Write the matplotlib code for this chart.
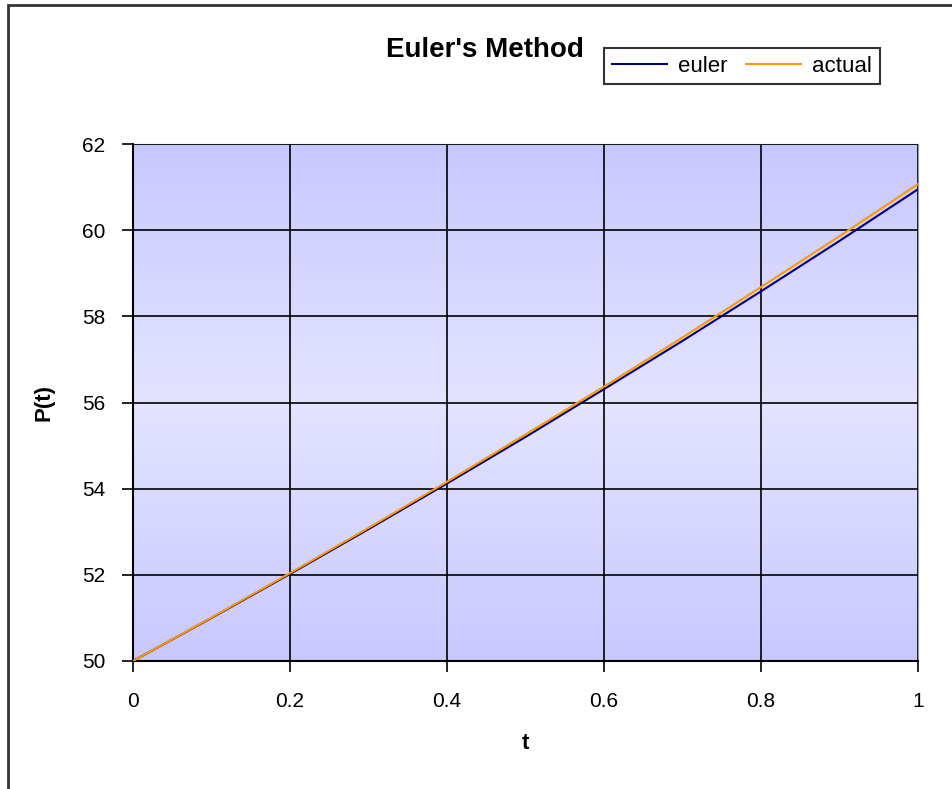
import matplotlib.pyplot as plt
import numpy as np
from matplotlib.patches import Rectangle

plt.rcParams['font.family'] = ['Liberation Sans', 'DejaVu Sans']

# values (step 0.1)
t = [0.0, 0.1, 0.2, 0.3, 0.4, 0.5, 0.6, 0.7, 0.8, 0.9, 1.0]
euler = [50.0, 51.0, 52.02, 53.06, 54.12, 55.2, 56.31, 57.43, 58.58, 59.75, 60.95]
actual = [50.0, 51.01, 52.04, 53.09, 54.16, 55.26, 56.37, 57.51, 58.68, 59.86, 61.07]

xticks = [0, 0.2, 0.4, 0.6, 0.8, 1]
xtick_labels = ['0', '0.2', '0.4', '0.6', '0.8', '1']
yticks = [50, 52, 54, 56, 58, 60, 62]

fig = plt.figure(figsize=(9.53, 7.89), dpi=100)
ax = fig.add_axes([133 / 953, 1 - 661 / 789, 785 / 953, 517 / 789])

# gradient background: darker at top and bottom, lighter in the middle
g = np.linspace(0, 1, 256)
shade = 1 - np.abs(g - 0.5) * 2
r = 200 + 28 * shade
col = np.stack([r, r, np.full_like(r, 255)], axis=1) / 255.0
img = np.repeat(col[:, None, :], 2, axis=1)
ax.imshow(img, extent=[0, 1, 0, 1], transform=ax.transAxes, aspect='auto', zorder=0)

ax.plot(t, euler, color='#000080', lw=1.5, label='euler', zorder=3)
ax.plot(t, actual, color='#ff9900', lw=1.5, label='actual', zorder=4)

ax.set_xlim(0, 1)
ax.set_ylim(50, 62)
ax.set_xticks(xticks)
ax.set_xticklabels(xtick_labels)
ax.set_yticks(yticks)
ax.grid(True, color='black', lw=1.2, zorder=1)
ax.set_axisbelow(False)
ax.tick_params(direction='out', length=8, width=1.2, labelsize=15, pad=12)
ax.tick_params(axis='x', pad=14)
for s in ['top', 'right']:
    ax.spines[s].set_color('#999999')
for s in ['left', 'bottom']:
    ax.spines[s].set_linewidth(1.5)

ax.set_xlabel('t', fontsize=16, fontweight='bold', labelpad=16)
ax.set_ylabel('P(t)', fontsize=16, fontweight='bold', labelpad=20)

fig.text(485 / 953, 1 - 50 / 789, "Euler's Method", fontsize=20, fontweight='bold',
         ha='center', va='center')

leg = fig.legend(loc='center', bbox_to_anchor=(742 / 953, 1 - 66 / 789), ncol=2,
                 fontsize=16, frameon=True, fancybox=False, edgecolor='black',
                 handlelength=2.5, columnspacing=0.8, handletextpad=0.5, borderpad=0.35)
leg.get_frame().set_linewidth(1.5)

# outer chart border (cut off at right and bottom)
fig.patches.append(Rectangle((8 / 953, -0.1), 1.2, 1 - 5 / 789 + 0.1, transform=fig.transFigure,
                             fill=False, edgecolor='#333333', lw=2))

fig.savefig('out.png', dpi=100)
